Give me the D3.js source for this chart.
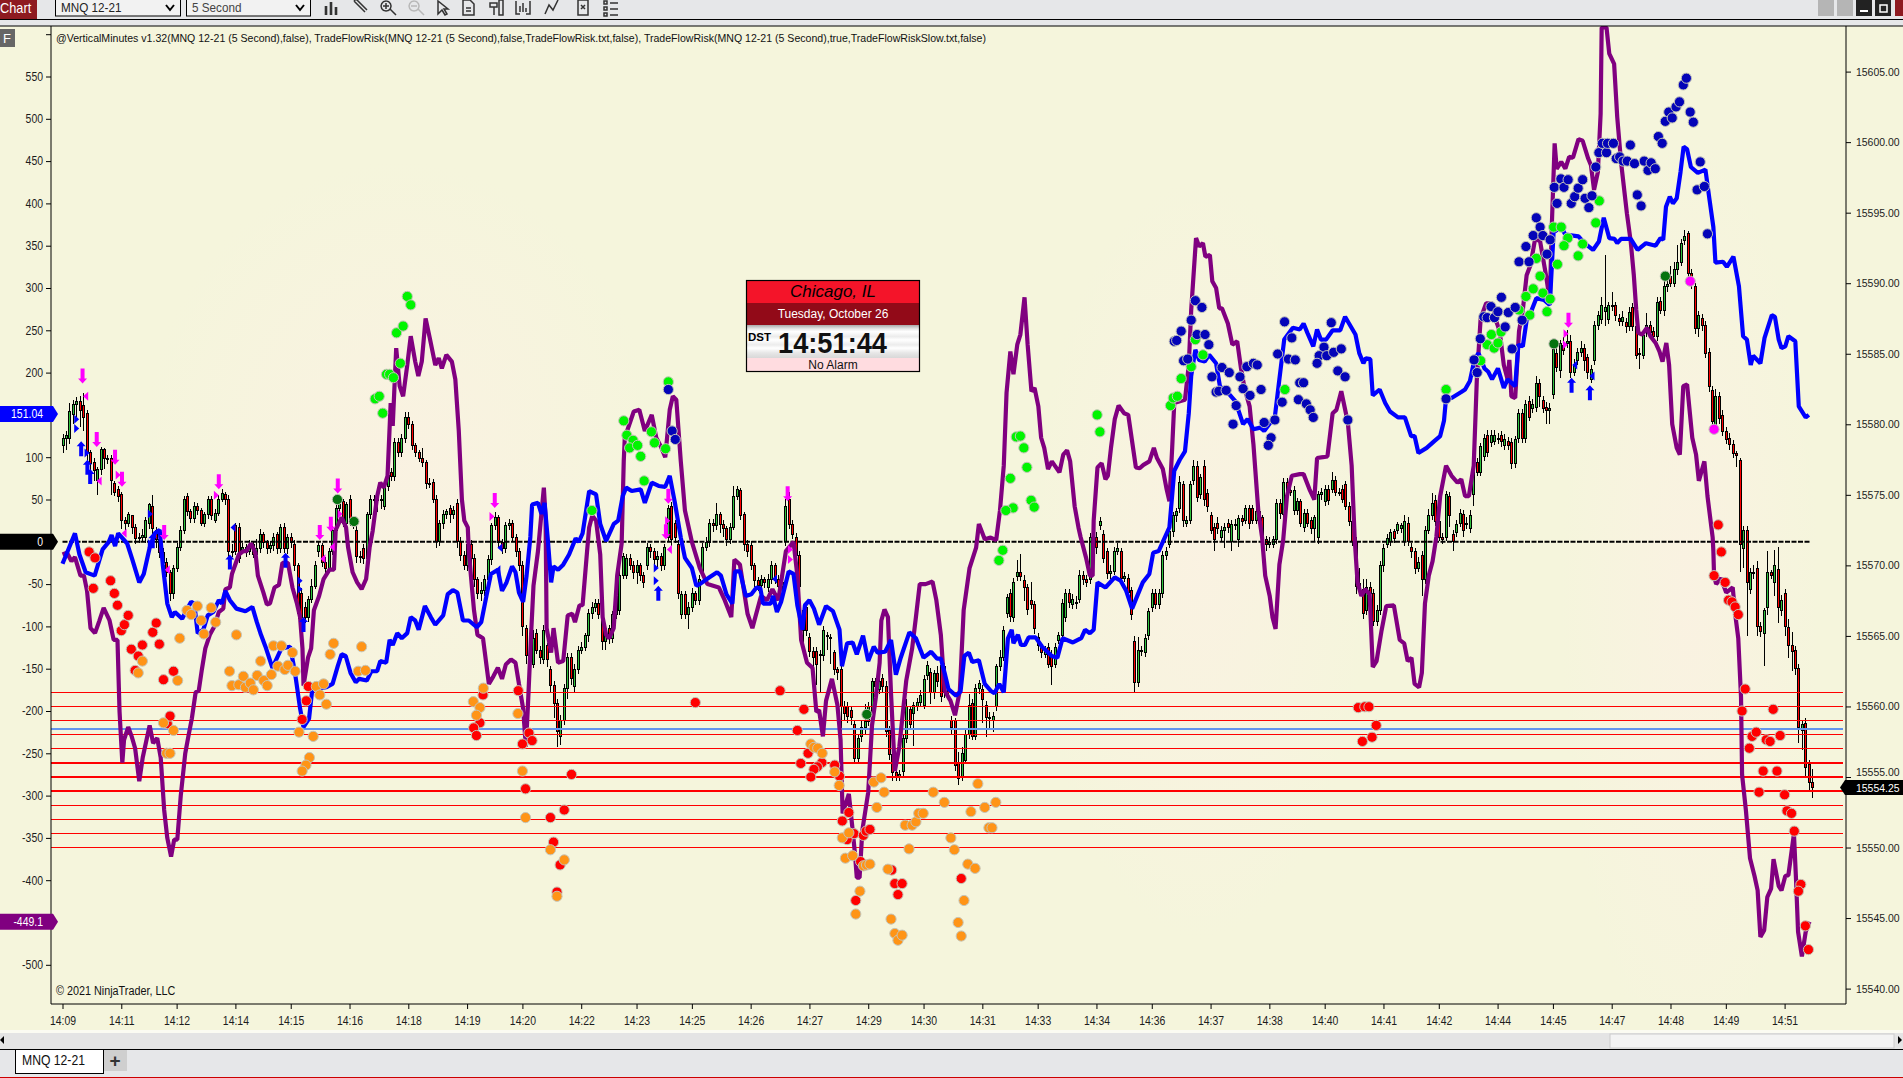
<!DOCTYPE html>
<html><head><meta charset="utf-8"><title>MNQ 12-21</title>
<script src="https://cdn.jsdelivr.net/npm/d3@7/dist/d3.min.js"></script>
<style>html,body{margin:0;padding:0;background:#f5f5dc;overflow:hidden}svg{display:block}text{font-family:"Liberation Sans",Arial,sans-serif}</style>
</head><body><svg id="c" width="1903" height="1078"></svg>
<script>
const title="@VerticalMinutes v1.32(MNQ 12-21 (5 Second),false), TradeFlowRisk(MNQ 12-21 (5 Second),false,TradeFlowRisk.txt,false), TradeFlowRisk(MNQ 12-21 (5 Second),true,TradeFlowRiskSlow.txt,false)";
const tickBars=[0,17,33,50,66,83,100,117,133,150,166,182,199,216,233,249,266,282,299,315,332,349,365,382,398,415,431,448,465,481,498];
const tickLabels=["14:09","14:11","14:12","14:14","14:15","14:16","14:18","14:19","14:20","14:22","14:23","14:25","14:26","14:27","14:29","14:30","14:31","14:33","14:34","14:36","14:37","14:38","14:40","14:41","14:42","14:44","14:45","14:47","14:48","14:49","14:51"];
const flowTicks=[600,550,500,450,400,350,300,250,200,150,100,50,0,-50,-100,-150,-200,-250,-300,-350,-400,-450,-500];
const priceTicks=[15540,15545,15550,15555,15560,15565,15570,15575,15580,15585,15590,15595,15600,15605];
const priceBase=15500;
const redLevels=[15550,15551,15552,15553,15554,15555,15556,15557,15558,15559,15560,15561];
const blueLevel=15558.4;
const lastPurple=-449.1,lastBlue=151.04,lastPrice=15554.25;
// candle rows: open, close, high, low (price minus priceBase)
const candles=[
[78.5,79,79.3,78],[79,79.2,79.5,78.2],[79,80.9,81.5,78.6],[80.7,81.4,81.7,80],[81.4,81.6,81.9,80.5],[81.6,81,82,79.8],[81.3,80.5,82.2,79.5],[80.8,78,81,77],[78,77.2,78.2,76],[77.3,76.7,77.6,76],
[76,76.8,77,75],[76.8,78.2,78.4,76.4],[78.2,77.6,78.3,76.8],[77.6,77.5,77.8,77.2],[77.6,76,77.8,75],[75.8,75.2,76,74.9],[75.4,74.9,75.6,74.5],[75,73.2,75.2,72.6],[73.2,73,73.4,72.4],[73,73.6,73.8,72.7],
[73.5,72.7,73.6,72.2],[72.7,71.9,72.9,71.5],[72,72,72.3,71.6],[72,72.1,72.6,71.7],[72,73.2,73.4,71.6],[73,74.3,74.4,72.6],[74.2,72.6,75,71.6],[72.5,71.8,72.7,71.2],[71.8,70.9,72,70.5],[70.9,70.2,71.2,69.8],
[70.2,69.5,70.5,69.2],[69.5,68,69.7,67.5],[68,69.8,70,67.6],[69.8,71.3,71.6,69.5],[71.3,72.5,72.8,71],[72.5,74.7,74.9,72.2],[74.9,73.8,75.1,73.5],[73.8,73.3,74,73],[73.3,74.2,74.5,73],[74.2,73.9,74.4,73.6],
[73.9,73,74.1,72.8],[73,73.6,73.8,72.7],[73.6,74.7,74.9,73.3],[74.7,73.5,74.9,73.2],[73.2,73.7,74,73],[73.7,74.7,75,73.5],[74.7,75.1,75.4,74.5],[75,74.7,75.2,74.3],[74.7,71,75,70.5],[71,71,71.5,70.6],
[72.8,71,73,70.7],[72.7,70.5,73,70.2],[71,71.3,71.6,70.8],[71.3,70.9,71.5,70.6],[71,71.5,71.8,70.7],[71.5,70.8,71.7,70.5],[70.8,71.2,71.9,70.5],[71.2,72.2,72.6,70.9],[72.2,71.6,72.4,71.2],[71.6,71.2,71.8,70.8],
[71.2,71.4,71.7,70.9],[71.4,72,72.3,71],[72.2,71.2,72.4,70.8],[71.2,72.7,72.9,70.9],[72.7,71.2,73,70.9],[71.2,72,72.2,70.8],[72,71.6,72.3,71.2],[71.5,70,71.8,69.6],[70,66.6,70.2,66.2],[68,66.3,68.4,65.8],
[67,66.3,67.4,65.9],[66.3,67.6,67.8,66],[67.6,68.5,69,67.3],[68.5,70,70.3,68.3],[71,71.4,71.7,70.6],[71.4,70.2,71.6,69.9],[70.2,69.8,70.6,69.4],[69.8,71,71.2,69.5],[71,72.5,72.8,70.7],[72.5,74,74.5,72.2],
[74,74.5,74.8,73.6],[74.5,73,74.7,72.7],[73,74.3,74.5,72.7],[74.7,73.2,75,72.8],[73.2,73,73.5,72.6],[72.5,70.6,72.8,70.2],[70.6,70.6,71,70.2],[71.2,70.5,71.5,70.1],[70.5,73.6,73.8,70.2],[73.6,74.7,75,73.3],
[74.7,74.7,75,74.2],[74.7,74.7,75,73.8],[74.7,74.6,75,74],[74.2,75.5,75.7,73.9],[75.6,76.4,76.6,75.3],[76.6,76.3,76.9,76],[76.3,78.7,79,76],[78.7,78,79,77.7],[78,79,79.3,77.7],[79,80.5,80.9,78.7],
[80.5,80,80.9,79.7],[80,78.5,80.2,78.2],[78.5,78,78.7,77.7],[78,77.6,78.2,77.3],[77.6,77.3,78.3,77],[77.3,75.8,77.5,75.4],[75.8,75.8,76.2,75.5],[75.9,74.7,76.1,74.4],[74.7,71.7,75,71.2],[71.7,73,73.2,71.4],
[73,73.6,73.9,72.6],[73.6,73.8,74,73.3],[74,73.6,74.3,73],[73.6,73.9,74.2,73.3],[74.4,71.7,74.7,71.2],[71.7,70.7,72,70.3],[70.7,70,71,69.7],[70,71.5,71.7,69.6],[71.5,70.5,71.8,70],[70.5,69,70.8,68.5],
[69,68,69.2,67.6],[68,68.2,68.8,67.5],[68.2,69,69.3,67.8],[69,70.4,70.7,68.7],[70.4,72.8,73,70],[72.8,73.4,73.8,72.5],[73.4,71.6,73.6,71.2],[71.6,71.2,71.9,70.8],[71.2,72.8,73.1,70.9],[72.8,73,73.3,72.5],
[73,72,73.2,71.7],[72,71,72.2,70.6],[71,70,71.2,69.6],[70,65.7,70.3,65],[65.5,63.6,65.8,63],[63.6,63,63.9,62.5],[63,64.8,65.4,62.7],[65.2,64,65.5,63.7],[64,63.5,64.3,63],[63.3,65.4,65.8,63],
[64.3,63.3,64.5,62.8],[62.6,61.5,62.9,61],[61.5,60.2,61.8,59.2],[60.2,58.2,60.5,57.1],[57.9,59,59.4,57.3],[59,61.3,61.6,58.7],[61.3,63.5,63.8,60.5],[63.5,62,63.8,61.5],[61.4,62.6,63,61],[62.6,64,64.3,62.3],
[64,64.2,64.6,63.7],[64.2,65,65.2,63.9],[65,66.6,66.9,64.6],[66.6,67,67.4,66.2],[67,67.3,67.6,66.7],[67.3,66.5,67.6,66.2],[67,64.6,67.3,64],[64.6,65.5,65.8,64],[65.5,64.8,65.8,64.4],[64.8,66.5,66.8,64.5],
[66.5,67.8,68.1,66.2],[66.8,69.3,69.6,66.5],[69.3,70.6,70.9,69],[69.3,70.5,70.8,69],[70.5,70,70.8,69.7],[70,69.5,70.3,69],[69.5,70,70.4,68.7],[70,69.3,70.2,68.9],[69.3,68.8,69.5,68.4],[70,71.3,71.6,69.7],
[71.3,71,71.5,70.5],[71,70.4,71.2,70],[70.4,70.6,71,69.9],[70.6,70,70.9,69.6],[70,71.3,71.5,69.7],[72,74,74.3,71.7],[74.2,71.8,74.5,71.4],[73,72,73.2,71.6],[71.5,68,71.8,67.6],[66.5,67.9,68.2,66.2],
[67.9,66.5,68.2,66.2],[66.5,67,67.4,65.5],[67,68,68.4,66.7],[68,67.5,68.2,67.2],[67.5,69,69.3,67.2],[69.5,71.3,71.6,69.2],[71.3,71.6,72,71],[71.6,73,73.3,71.3],[73,72.8,73.3,72.4],[72.8,73.6,74.4,72.5],
[73.6,72.9,73.8,72.3],[72.9,72.6,73.2,72],[72.6,71.8,72.8,71.4],[71.8,72.7,73,71.5],[72.7,74.9,75.6,72.5],[74.9,75.4,75.6,74.6],[75.3,73.5,75.5,73.2],[73.6,71.5,73.8,71],[71.5,71,71.8,70.6],[71.4,70,71.7,69.7],
[70,68.9,70.2,68.5],[68.9,68.6,69.2,68.2],[68.6,69,69.3,68.3],[69,68.8,69.2,68.4],[68.4,69,69.4,68.1],[69,70,70.3,68.7],[70,69,70.2,68.7],[69,68.5,69.3,68.2],[68.5,68.8,69.2,68.2],[71.7,74.2,74.7,71.4],
[74.7,72.9,75.2,72.6],[72.9,72.2,73.2,71.9],[72,70.7,72.3,70.3],[70.7,68.5,71,68],[66.8,65.4,67.2,64],[67,65.4,67.3,65],[64.9,63.9,65.2,63.5],[63.9,63.5,64.2,62.2],[63.9,63,64.2,61.5],[63.7,63.6,64,61],
[63.6,65.4,65.7,63.2],[65,65,65.3,64],[64.9,64.9,65.1,63],[63.8,62.6,64,62.2],[62.6,62.4,62.8,61.9],[62.6,60,62.9,58],[60,59.5,60.4,59],[60,59.3,60.3,58.8],[59.7,59.2,60,58.7],[58.7,56.3,59,56],
[56.3,57.7,58,56],[57.9,58.5,59,57.5],[58.5,58.9,60.2,58],[58.9,60,60.3,58.6],[59,61.8,62,58.7],[61.8,61.4,62,61],[61.2,61.8,62.5,60.9],[62,61.4,62.3,61],[61.4,58.2,61.8,57.8],[58.3,56.6,58.6,56.2],
[56.6,55.3,56.9,54.7],[55.3,55,55.6,54.7],[55,55.2,55.5,54.7],[55.4,57.7,58,55],[57.7,60,60.5,57.4],[59.8,58.7,60,58.3],[59.5,60.1,60.3,57.2],[60,60.3,60.6,59.7],[60.3,60.8,61.2,60],[60.1,61.9,62.2,59.8],
[62.2,62.9,63.2,61.9],[62.4,61,62.7,60.2],[61,62.3,62.6,60.5],[62.3,61.8,62.9,61.4],[62.9,60.7,63.4,60.3],[62.8,61.3,63.1,60.6],[61.3,61,61.6,60.7],[59,58.5,59.3,58],[59,55.8,59.2,55.4],[56,54.9,56.8,54.4],
[55,56.7,57.1,54.7],[56.2,58,58.3,55.9],[58,60.1,60.9,57.7],[60.2,57.9,60.5,57.6],[57.9,61.3,61.6,57.6],[61.3,61.6,61.9,60.9],[61.2,60.5,61.5,58.8],[60.1,59.2,60.4,57.8],[59.2,59.2,59.6,58.5],[59,59.3,59.6,58.2],
[60,62.8,63,59.7],[62.8,63.5,64,62.5],[63.5,65.4,65.7,63.2],[66.6,67.7,68,66.3],[68,66.4,68.3,66],[66.3,68.8,69.1,66],[69.2,69.5,70.4,68.9],[69.5,69.2,70.8,68.9],[68.9,68.4,69.3,67.5],[68.4,66.9,68.7,66.5],
[67.5,67.2,68.8,66.9],[67.2,65.5,67.5,65.1],[64.9,64.3,65.2,63.9],[64.2,63.8,64.5,63.4],[63.7,64,64.3,63.4],[64.2,63,64.5,62.7],[63.7,62.8,64,61.5],[63,64.2,64.5,62.7],[64.7,65,65.3,64.4],[65,67.3,67.6,64.7],
[66.3,68,68.3,66],[68,67.4,68.3,67],[67.2,67.6,68,66.9],[67.4,67.4,67.8,66.9],[67.6,69.3,69.7,67.3],[69.3,69,69.6,68.6],[69,68.8,69.3,68.5],[69,72,72.3,68.7],[70.5,72.6,73,70.2],[72,71.3,72.4,70.8],
[72.8,73.1,73.4,72.5],[72.2,70.5,72.5,70.2],[71,69.4,71.2,69],[69.4,69.6,70,69],[69.6,71,71.3,69.3],[71,71.2,71.6,70.7],[71,69.1,71.2,68.8],[69.1,69.2,69.5,68.8],[69.1,68.1,69.4,67.7],[68.2,66.5,68.5,66.1],
[64.6,61.7,65,61],[61.7,64,64.9,61.4],[64,64,64.3,63.6],[63.8,64.8,65.1,63.5],[65,66.7,67,64.7],[67,68,68.3,66.7],[68,67.2,68.3,66.9],[67.2,68,68.3,66.9],[68,70.7,71,67.7],[70.7,71,71.3,70.4],
[71.5,72.4,72.7,71.2],[72.4,73.5,73.8,72],[73.5,73.8,74.1,73.1],[74,75.9,76.3,73.7],[75.7,73.2,76,72.7],[73,73.2,73.5,72.7],[73.2,75.7,76,72.9],[76,77,77.5,75.7],[77,74.8,77.4,74.5],[75,76.2,76.5,74.7],
[77,74.7,77.5,74.2],[75.1,74.2,75.4,73.8],[73.5,72.5,73.8,72.2],[72.7,71.8,73,71],[73,72.6,73.4,72.2],[72,72.5,72.8,71.7],[72.5,72.7,73,71.2],[73,72.7,73.3,72.3],[71.7,72.9,73.2,71],[72.9,72.9,73.3,72.5],
[71.8,73.3,73.6,71.3],[73.3,73.1,73.6,72.8],[73.2,74,74.3,72.9],[74,73,74.3,72.6],[74,73.2,74.3,72.9],[73.2,73.8,74.2,72.9],[73.8,73,74,72.6],[73.4,71.8,73.6,71.4],[71.8,71.5,72.1,71],[71.5,71.6,72,71.2],
[71.5,71.8,72.1,71.2],[71.8,74.4,74.7,71.5],[74.4,73.7,74.7,73.3],[73.6,75.9,76.2,73.3],[75.9,75.3,76.2,75],[75.3,75.2,75.6,74.9],[73.9,75.3,75.6,73.6],[73.9,74.5,74.8,73.6],[74.5,73,74.7,72.7],[72.7,73.7,74,72.4],
[73.7,73,74,72.7],[73.2,72.6,73.4,72.2],[72.6,73.4,73.6,71.7],[72,75,75.3,71.5],[75,75.2,75.5,74.6],[74.5,75.4,75.7,74.2],[75.4,74.6,75.7,74.3],[75.4,76,76.6,75.1],[76,75.2,76.3,74.9],[75.2,75.2,75.5,74.9],
[75.4,74.7,75.7,74.4],[75.7,74.2,76,73.9],[74.2,73.1,74.5,72.8],[73.1,71.7,73.4,71.4],[71.7,68.5,72,68],[68.7,68.3,69.8,68],[68.3,66.6,69,66.2],[66.8,68.4,69,66.5],[68.4,68,68.8,67.7],[68,66,68.3,65.7],
[66,66.8,67.2,65.7],[66.8,70,70.3,66.5],[70,71.2,71.5,69.5],[71.5,71.9,72.2,71.2],[71.7,72.3,72.6,71.4],[72.4,71.9,72.6,71.6],[72.5,72.9,73.1,72.2],[72.6,72.8,73,72.3],[71.7,73.1,73.6,71.4],[73,71.7,73.4,71.4],
[71.3,71,71.6,70.5],[71,69.8,71.2,69.4],[69.8,70.2,70.6,69.5],[70.7,69,71,67.8],[69,72.5,72.8,68.7],[72.5,73.5,74,72.2],[73.5,74.4,75.1,73.2],[74.6,73.1,75,72.8],[73.1,72,73.4,71.7],[72,71.8,72.3,71.5],
[72,75,75.3,71.7],[74.9,73.5,75.2,72.7],[72.2,71.7,72.5,71],[72.3,72.9,73.2,72],[73,73.7,74,72.7],[73.6,72.5,73.9,72],[72.9,73,73.4,72.6],[72.6,73.5,73.9,72.3],[75,77.4,77.7,74.2],[77.3,76.6,77.6,76.3],
[76.6,78.4,78.7,76.3],[77.7,79,79.3,77.4],[79.2,78,79.6,77.7],[78.7,79.2,79.6,78.4],[78.8,79.2,79.6,78.5],[79,79,79.4,78.6],[79.2,78.8,79.5,78.4],[78.5,78.9,79.3,78.2],[78.8,78.5,79.1,78.2],[78.7,77.2,79,76.8],
[77.2,78.9,79.2,76.9],[79,80.8,81.1,78.7],[80.8,79,81.1,78.7],[79,81.4,81.7,78.7],[81.6,80.5,82,80.2],[81.1,81.4,81.8,80.8],[81.2,82.9,83.4,80.9],[82.9,82,83.2,81.2],[81.7,81.1,82,80.8],[81.2,81,81.6,80],
[81,81.1,81.5,80],[82.1,85.3,85.6,81.8],[85,84,85.5,83.7],[83.8,85.7,86,83.3],[85.6,85.2,86.2,84.9],[85.7,85.9,86.7,85.4],[85.9,83.7,86.3,83.3],[83.7,84.2,84.6,83.4],[84.5,85.1,85.4,84.2],[85.1,85.4,85.9,84.8],
[85.4,84.5,85.7,83.8],[84.7,83.7,85,83.2],[83.2,83.9,84.2,82.9],[84.5,87,87.3,84.2],[87,87.7,88,86.7],[87.4,88.4,89,87.1],[88,88.3,92,87],[87.4,88.4,88.7,87.1],[88.4,88.4,89.4,88],[88.4,87.7,88.7,87.3],
[87.5,87.3,87.8,87],[87.3,87.6,88,87],[87.2,86.9,87.5,86.5],[86.9,87.9,88.3,86.6],[88.3,86.9,88.6,86.6],[86.9,84.9,87.2,84.6],[85,85,85.4,83.9],[84.9,86.3,86.6,84.6],[86.5,87,87.9,86.2],[87,86.5,87.3,86.2],
[86.6,86.2,86.9,85.9],[86.2,88.6,89,85.9],[88.7,88.1,89,87.8],[88.1,89.8,90.2,87.7],[89.8,89.9,90.3,89.4],[90.5,90,91.2,89.7],[90,91,91.5,89.7],[91,91.5,92.7,90.6],[91.5,92.8,93.1,91.2],[93,93.3,93.8,92.7],
[93.5,90.7,93.7,90.3],[90.7,90,91,89.6],[89.8,86.8,90,86.4],[86.8,87.7,88,86.2],[87.5,87,87.8,86.6],[87,85,87.3,84.7],[85.1,82.7,85.4,82.3],[82.4,80.2,82.7,79.9],[80,82,82.5,79.7],[82,80.4,82.3,80],
[80.6,79.5,81,79.2],[79.5,78.9,79.8,78.6],[79,78.6,79.4,78.2],[78.6,77.9,78.9,77.6],[77.9,77.8,78.1,77],[77.4,71.5,77.6,69.5],[71.2,72.5,72.8,69.8],[72.5,68.8,72.8,65],[68.3,69.5,69.8,68],[69.5,69.5,70,69],
[69.8,65.7,70.3,65],[65.7,65.3,66,64.9],[65.2,66.8,67,62.9],[67,69.5,71,66.5],[69.5,69.3,69.7,69],[68.8,70,71.1,67.8],[69.7,67,71.3,65.9],[66.8,67.5,67.9,66.4],[68,65.7,68.3,65],[65.6,64.3,66.2,63.4],
[64.3,63.9,65.3,62.5],[64,62.7,64.3,62.2],[62.7,58.5,63,57.4],[58.3,58.7,59,56.9],[58.8,55.7,59.2,55],[55.9,54.6,56.2,54],[54.6,54.25,55.6,53.5]];
// lines: [bar, value on the left scale]
const purpleLine=[[0,-15],[1.3,-13],[2.6,-23],[3.6,-18],[5.2,-40],[6.2,-40],[7.1,-58],[8.1,-102],[9.4,-108],[10.6,-94],[11.9,-78],[13.6,-93],[14.8,-116],[15.9,-116],[16.5,-201],[17.3,-261],[17.8,-234],[19,-219],[20,-230],[21,-244],[22.2,-283],[23.2,-255],[25.2,-217],[26.2,-238],[27.4,-232],[28.4,-255],[29.4,-317],[30.3,-350],[31.4,-372],[32.3,-352],[33.2,-352],[34.2,-300],[35.5,-250],[36.4,-230],[37.4,-209],[38.5,-178],[39.4,-176],[40.3,-151],[41.3,-126],[42.6,-110],[43.9,-100],[45.2,-83],[46.5,-79],[47.1,-56],[48.4,-54],[49,-38],[51,-15],[52.3,-11],[53.2,-11],[54.5,-2],[55.8,-13],[56.5,-40],[58.1,-60],[59.1,-74],[60,-73],[61.3,-54],[62.6,-51],[63.6,-25],[65.2,-25],[66.5,-54],[67.8,-73],[68.7,-89],[69.4,-126],[69.7,-170],[71,-137],[71.9,-126],[72.7,-81],[74.2,-64],[75.5,-44],[77.2,-33],[78.5,-33],[79,14],[80.7,29],[82,17],[82.6,-7],[83.9,-36],[85.2,-48],[86.5,-56],[87.8,-44],[88.8,-7],[89.7,13],[91,54],[91.9,70],[92.9,64],[94,78],[94.9,164],[95.5,137],[96.5,229],[97.5,184],[98.5,172],[99.7,209],[100.7,243],[102,213],[102.9,196],[103.9,213],[105,264],[106.2,241],[107.8,209],[108.8,217],[109.7,205],[111,221],[112.6,213],[113.6,192],[114.6,131],[115.5,50],[116.2,25],[117.2,17],[117.5,-11],[118.1,-40],[119,-81],[120,-110],[121.6,-114],[123.3,-168],[124.6,-159],[125.9,-149],[127.1,-162],[128.2,-145],[129.7,-139],[131,-143],[132,-168],[133.2,-197],[134,-242],[134.6,-193],[135.5,-110],[136.2,-52],[137.5,-11],[138.4,29],[139.2,64],[139.7,29],[140,-102],[141.3,-131],[142,-102],[143.3,-143],[144.8,-141],[146.1,-87],[147.4,-85],[148.2,-95],[149.5,-75],[150.4,-75],[151.7,-11],[152.3,17],[153.2,31],[154.3,25],[155.5,-15],[156.2,-89],[157.2,-110],[158.1,-114],[159.4,-102],[160.4,-40],[161.7,-2],[162.3,95],[162.6,123],[165.2,154],[166.8,156],[168.4,131],[170.4,150],[171.7,123],[173,113],[174.3,100],[175.6,156],[176.5,172],[177.5,168],[178.8,95],[180,37],[182,0],[184.3,-31],[186.5,-50],[189.8,-54],[191.5,-69],[193.4,-89],[194.3,-21],[195.9,-27],[198.1,-85],[199.5,-102],[202,-64],[203.7,-69],[205.3,-56],[207,-69],[209.2,-11],[211.4,0],[212.5,-40],[213.6,-116],[215.3,-143],[216.9,-149],[218,-201],[218.8,-199],[219.9,-230],[220.8,-188],[222.5,-162],[224.1,-193],[225,-234],[225.6,-321],[227.4,-298],[228.5,-341],[229.1,-366],[229.7,-397],[230.5,-397],[231.3,-341],[233,-296],[234.1,-217],[235.2,-184],[236.3,-143],[236.8,-93],[237.7,-80],[238.7,-89],[239.6,-180],[240.7,-271],[242,-242],[244,-164],[245.7,-126],[246.8,-89],[247.9,-50],[249.6,-50],[251.6,-47],[252.7,-69],[254,-110],[255.1,-176],[256.8,-188],[258.1,-205],[259.5,-176],[260.6,-81],[262.3,-31],[264.2,-7],[265,21],[266.7,3],[268.4,5],[270,2],[271.1,37],[272.2,90],[273,176],[274.1,225],[275,198],[276.1,233],[277,245],[278.2,289],[279.1,233],[280.2,178],[281.1,182],[282.2,160],[283,123],[283.9,111],[285,86],[286.1,95],[288.3,82],[289.4,103],[290.5,108],[291.4,95],[292.7,42],[293.8,17],[294.4,6],[296,-19],[297.1,-40],[297.9,-40],[298.2,25],[299.3,88],[300.5,93],[301.6,74],[302.3,78],[303.2,111],[304.3,145],[305.4,161],[307,152],[308.2,150],[309.3,119],[310.4,88],[311.5,87],[312.6,91],[314.3,95],[315.6,111],[316.5,99],[318.2,86],[319.3,62],[320.1,48],[320.9,111],[321.5,164],[323.1,166],[324.6,168],[325.7,209],[326.4,274],[327.8,359],[328.7,349],[329.8,353],[330.5,337],[331.8,339],[332.5,308],[333.6,300],[334.5,276],[335.3,276],[337,258],[338.3,233],[339.7,237],[340.8,205],[341.9,180],[343.3,160],[344.4,115],[345.8,37],[346.9,5],[347.8,-40],[349.1,-64],[349.9,-89],[350.8,-103],[351.9,-27],[353,2],[354.1,54],[355.5,78],[357.8,80],[358.9,80],[360.6,62],[362,50],[362.8,99],[364.5,100],[365.8,101],[367.3,152],[368.4,156],[369.8,178],[371.7,141],[372.8,90],[373.7,2],[374.5,-48],[375.6,-64],[376.7,-56],[378,-62],[378.9,-148],[380,-141],[381.4,-106],[382.8,-76],[385,-75],[386.7,-116],[388,-120],[389,-141],[390.1,-137],[391,-168],[392.3,-172],[393.1,-155],[394,-73],[395.1,-40],[396.2,-23],[397.3,6],[398.4,54],[400.1,90],[401.7,78],[403.4,70],[404.5,74],[405.6,54],[406.7,54],[408.1,90],[409,192],[410.1,264],[411.7,282],[413.4,282],[414.5,262],[415.6,249],[416.8,209],[417.9,192],[418.4,215],[419,172],[420.1,170],[421.2,249],[422.3,274],[423.4,315],[424.5,327],[425.9,359],[427.3,355],[429,315],[430.1,286],[430.7,376],[431.5,471],[432.1,441],[433.4,449],[434.6,441],[435.7,455],[436.8,454],[438.4,476],[439.6,474],[441.2,453],[442,445],[442.9,416],[444,437],[444.8,506],[445.1,608],[446.5,608],[447.3,577],[448.7,565],[449.6,502],[450.7,449],[452.4,388],[453.5,355],[454.4,315],[455.1,274],[455.7,247],[456.8,245],[458.2,253],[459.2,243],[460.7,235],[461.8,225],[462.7,213],[463.8,235],[464.6,209],[465.5,139],[466.8,111],[467.7,103],[468.7,184],[469.8,186],[471.3,123],[472.4,103],[473.2,72],[474.8,95],[475.7,54],[477.2,5],[477.4,-11],[477.6,-40],[478.2,-50],[479.6,-43],[481.1,-60],[483,-54],[483.7,-85],[484.6,-114],[485.4,-184],[485.7,-275],[486.8,-317],[488,-374],[489.3,-395],[490.2,-412],[491,-467],[492.1,-459],[493,-420],[494.1,-410],[494.8,-375],[496.3,-407],[497.1,-412],[498.2,-395],[499.1,-394],[500.7,-345],[501.3,-399],[501.9,-461],[503,-490],[504.1,-461],[505.2,-449]];
const blueLine=[[0,-26],[1.9,-7],[3.6,10],[4.9,-15],[6.7,-36],[9.3,-40],[11.6,-9],[13.4,0],[14.2,8],[15.2,-5],[16.1,10],[18.7,-2],[20.2,-21],[22.2,-48],[23.5,-38],[25.2,-7],[26.7,10],[28.1,14],[29,-27],[30.3,-73],[31.6,-89],[32.5,-83],[34.6,-91],[36.1,-79],[37.2,-71],[38.1,-73],[39.1,-108],[40.7,-104],[42,-87],[43.6,-83],[45.2,-69],[46.1,-73],[47.1,-58],[48.4,-69],[50.3,-79],[52.9,-82],[54.9,-77],[56.2,-95],[57.4,-110],[58.7,-124],[60.7,-149],[63.3,-126],[65.8,-124],[67.1,-151],[68.7,-197],[69.7,-219],[71.3,-209],[72.3,-172],[73.8,-174],[76.2,-172],[78.1,-168],[79.6,-147],[80.7,-133],[81.9,-135],[83.3,-155],[84.8,-166],[85.8,-162],[88,-164],[89.3,-153],[91,-153],[91.9,-141],[93.6,-143],[94.6,-116],[95.5,-122],[96.8,-108],[98.1,-114],[99.7,-108],[100.7,-89],[102,-93],[103,-104],[104.8,-76],[106.5,-89],[107.8,-98],[110.1,-87],[111.4,-62],[112.9,-57],[114.2,-60],[115.8,-93],[117.5,-93],[119.8,-101],[121.1,-95],[122.6,-64],[123.9,-38],[125.9,-33],[127.1,-58],[128.4,-48],[130,-29],[131,-36],[132,-60],[133.2,-71],[134.2,-40],[135.3,6],[135.8,44],[137.5,46],[138.5,33],[139.4,46],[140.4,0],[141.3,-48],[142,-29],[143.3,-33],[144.8,-27],[146.5,-15],[148.4,4],[149.3,0],[150.4,10],[152.3,60],[154.3,56],[155.5,21],[157.2,1],[159.4,21],[160.7,25],[162,54],[163,64],[164.6,60],[167.2,62],[168.4,46],[170.4,70],[172.4,66],[174.3,65],[175.6,78],[177.1,46],[178.8,5],[180,-19],[182,-31],[183.3,-52],[184.3,-50],[187.1,-42],[189.3,-36],[190.4,-40],[192,-62],[193.7,-73],[194.5,-35],[195.9,-35],[197.6,-64],[199.2,-62],[200.7,-54],[201.8,-55],[202.6,-73],[204.8,-73],[205.5,-64],[206.6,-83],[207.8,-71],[210,-35],[211.4,-38],[212.5,-75],[214,-104],[214.7,-75],[216,-69],[217.3,-79],[218.8,-98],[220.8,-76],[222.8,-82],[224.7,-104],[225.4,-147],[226.9,-120],[228.5,-119],[229.7,-133],[231.5,-111],[233,-141],[234.6,-124],[235.7,-131],[237.9,-130],[239.6,-116],[241,-157],[242.4,-137],[244.9,-107],[246.8,-114],[249,-137],[251.2,-130],[252.9,-138],[254,-138],[255.1,-155],[256.2,-174],[258.4,-182],[259.7,-177],[260.8,-135],[262.1,-131],[263.1,-142],[265,-140],[266.7,-168],[268.4,-176],[269.5,-179],[270.9,-168],[272.2,-178],[273.4,-114],[274.5,-104],[275,-120],[276.3,-110],[277.2,-122],[278.3,-122],[279.4,-113],[281.4,-113],[283.3,-124],[286.1,-135],[287.7,-137],[289.2,-114],[292.2,-119],[294.6,-114],[295.7,-104],[297.1,-108],[298.2,-104],[299.3,-48],[301.6,-54],[304.3,-42],[306,-46],[307.6,-58],[309.3,-79],[312.4,-48],[314.3,-38],[315.4,-13],[317,-11],[318.2,0],[320.1,17],[321.5,84],[323.1,97],[324.6,107],[325.7,152],[326.4,196],[327.6,227],[328.7,215],[330.3,213],[331.6,221],[333.6,211],[334.7,184],[336.4,176],[337.5,174],[339.2,166],[341.4,139],[342.7,145],[344.4,133],[346.4,135],[347.5,131],[350.6,148],[351.9,192],[353.3,239],[355.8,253],[357.8,251],[358.9,258],[360,247],[361.7,231],[362.8,251],[363.9,239],[365.4,239],[367.3,250],[369.5,250],[370.9,266],[373.9,245],[375,223],[376.2,211],[376.9,217],[378.2,216],[378.9,173],[380.9,180],[382.5,164],[383.9,154],[386.2,147],[388.2,147],[390,125],[391,125],[392.1,105],[394.5,111],[396.7,119],[398.4,125],[399.5,143],[400.1,170],[401.7,170],[404.5,177],[405.6,180],[407,190],[408.4,217],[409.5,223],[411.2,205],[412.3,201],[413.4,192],[415.1,205],[416.8,182],[417.9,192],[420.1,184],[421,233],[422.3,231],[423.4,262],[424.5,270],[426.2,288],[428.4,286],[430.1,280],[431.2,366],[433.4,372],[434.6,363],[438.4,361],[440.1,353],[442.6,345],[444.3,355],[445.7,383],[447.3,359],[448.8,358],[449.6,353],[450.7,358],[453.5,358],[455.5,345],[457.9,353],[460.7,350],[462.1,359],[462.9,357],[463.7,396],[464.8,408],[465.7,400],[466.8,406],[467.9,437],[468.8,467],[469.8,464],[470.9,443],[472.9,436],[475.1,440],[476.3,404],[477.4,372],[478,330],[480.2,331],[481.3,325],[483.2,337],[484.8,302],[486,243],[487.1,239],[488.2,209],[488.9,220],[491,211],[492.2,241],[494.3,268],[495.2,266],[496.3,239],[497.1,229],[498.2,231],[499.1,243],[501.1,237],[502.1,160],[504.1,147],[505,150]];
// dots: [bar, value on the left scale]
const redDots=[[7.7,-12],[9.4,-19],[8.9,-55],[13.9,-46],[15,-61],[15.9,-75],[17,-105],[17.9,-98],[19,-87],[19.9,-127],[21.9,-135],[23.1,-122],[21,-152],[26.1,-107],[27.1,-96],[28,-121],[29.2,-163],[32.1,-153],[30.3,-215],[31.1,-206],[71.1,-171],[70.5,-188],[69.3,-210],[121.6,-181],[131.8,-176],[120.7,-214],[118.9,-220],[119.7,-229],[134.9,-226],[135.8,-235],[133,-239],[133.9,-292],[141.1,-326],[145.1,-317],[147.2,-275],[142,-355],[143.9,-382],[143,-414],[183,-190],[207.5,-176],[214.4,-198],[212.5,-223],[215.6,-250],[213.5,-262],[219.6,-261],[218.3,-266],[217.3,-269],[216.4,-278],[223.3,-264],[224.7,-277],[227.4,-320],[225.5,-330],[228.9,-345],[226.9,-352],[231.6,-347],[232.4,-342],[233.5,-340],[230.8,-378],[239.8,-388],[240.7,-404],[242.8,-404],[241.6,-417],[229.4,-424],[259.9,-398],[374.7,-196],[376.6,-195],[377.8,-195],[379.9,-217],[378.7,-231],[375.9,-236],[478.8,20],[479.7,-12],[477.6,-40],[480.8,-48],[481.8,-69],[482.8,-71],[483.7,-77],[484.6,-86],[486.6,-174],[485.7,-200],[494.7,-198],[488.6,-230],[489.8,-225],[492.7,-234],[493.8,-236],[496.7,-229],[487.8,-244],[491.8,-271],[495.8,-271],[490.6,-296],[498,-299],[498.7,-318],[500,-321],[500.8,-342],[502.7,-405],[502,-413],[504,-454],[504.9,-482]];
const orangeDots=[[36,-81],[37.2,-86],[39,-76],[40.1,-93],[43,-78],[44.3,-95],[40.9,-109],[50.3,-110],[33.9,-114],[23.1,-141],[21.9,-155],[33.3,-164],[29.2,-214],[32.1,-223],[30.1,-250],[31.1,-250],[48.3,-153],[49,-170],[51,-169],[52.3,-159],[52.9,-172],[54.3,-167],[55.2,-175],[56.3,-158],[57.3,-141],[58.2,-164],[59.2,-170],[60.4,-157],[61,-123],[63.3,-123],[62.3,-147],[64.3,-151],[65.2,-146],[66.5,-131],[67.3,-153],[68.4,-225],[72.5,-230],[71.4,-255],[70.4,-264],[69.3,-271],[73.4,-171],[74.4,-181],[75.5,-168],[76.3,-192],[77.4,-133],[78.4,-120],[86.5,-124],[85.5,-153],[87.6,-152],[121.7,-173],[118.8,-189],[120.7,-196],[119.7,-205],[131.7,-203],[133,-271],[133.9,-326],[141.1,-364],[145.1,-376],[143,-419],[216.4,-239],[217.3,-243],[218.4,-244],[219.7,-250],[223.3,-272],[224.6,-288],[225.5,-350],[227.4,-344],[226.4,-374],[228.5,-371],[231.6,-383],[232.5,-382],[233.5,-381],[234.6,-284],[236.7,-279],[237.6,-296],[235.5,-314],[230.6,-413],[229.4,-440],[238.7,-387],[239.6,-446],[240.7,-463],[241.6,-471],[242.8,-465],[243.7,-335],[245.7,-335],[246.8,-331],[247.6,-321],[248.9,-321],[244.8,-363],[251.8,-296],[255,-308],[256.9,-350],[257.9,-364],[261.8,-381],[263.9,-386],[260.7,-424],[259,-450],[259.9,-466],[262.7,-319],[264.7,-286],[266.7,-314],[269.9,-308],[267.9,-338],[268.8,-338]];
const greenDots=[[99.7,290],[100.7,280],[96.6,247],[98.5,255],[97.7,211],[93.7,198],[94.6,198],[95.7,194],[90.4,169],[91.6,172],[92.6,152],[162.3,143],[163.2,126],[165,120],[164,111],[166.3,114],[167.2,101],[168.2,72],[170.3,130],[171.2,117],[174.4,110],[175.2,189],[153.1,37],[271.9,-10],[270.8,-22],[275.8,124],[277,125],[278,111],[278.9,88],[274.1,75],[274.9,40],[272.8,37],[280.1,49],[281,41],[299.2,150],[300,130],[320.4,161],[321.2,170],[322.4,172],[323.5,193],[326.4,207],[327.6,239],[329.8,221],[353.5,180],[400.1,180],[410.1,214],[413.2,245],[412,233],[414,229],[415.1,235],[416,248],[421.2,274],[424.3,268],[423.2,290],[425.3,299],[428.1,294],[430.2,287],[429.3,272],[427.3,314],[426.2,335],[432.3,328],[431.2,372],[433.4,372],[435.3,359],[434.2,350],[438.3,338],[439.6,352],[443.4,377],[444.4,403]];
const darkGreenDots=[[79.5,50],[84.3,24],[232.6,-204],[431.3,234],[463.5,314]];
const navyDots=[[175.2,180],[176.3,131],[177.2,121],[327.6,285],[329.5,277],[326.4,262],[323.5,249],[321.5,237],[322.2,238],[328.1,245],[330.4,245],[331.5,233],[324.2,214],[325.4,216],[335.3,206],[337.4,200],[340.5,195],[342.5,207],[344.4,211],[345.5,209],[332.4,195],[333.6,177],[334.4,178],[336.5,179],[341.4,181],[343.4,173],[346.6,180],[339.4,161],[338.5,139],[347.5,141],[350.6,144],[349.5,123],[348.7,114],[351.4,222],[353.4,260],[355.5,241],[354.5,216],[356.5,215],[352.7,165],[357.4,168],[357.8,188],[366.9,259],[364.8,230],[363.4,220],[365.6,220],[367.6,224],[369.8,228],[362.8,211],[368.8,202],[370.9,195],[358.9,188],[359.7,163],[360.8,156],[361.7,147],[371.7,144],[400.1,169],[409.1,200],[408.2,215],[410,240],[417.2,254],[419.2,228],[411,266],[412,265],[413.1,278],[414.1,265],[415.1,272],[416.1,289],[418.1,271],[420.1,277],[422.1,262],[421.2,331],[424.1,331],[423.2,349],[425.3,362],[426.2,383],[427.3,372],[428.1,362],[430.2,357],[429.3,340],[432.2,400],[431.4,419],[433.3,429],[434.2,419],[435.4,428],[436.3,400],[437.3,408],[438.3,418],[439.6,428],[440.3,406],[441.4,395],[442.3,409],[443.4,443],[444.3,460],[445.3,471],[446.5,460],[446.8,471],[448.5,471],[449.3,453],[450.3,455],[451.3,450],[452.5,450],[453.4,469],[454.6,447],[455.4,410],[456.5,397],[457.4,450],[458.5,439],[459.4,448],[460.6,441],[461.5,479],[462.6,471],[463.5,497],[464.5,508],[465.5,501],[466.6,514],[467.6,520],[468.7,540],[469.6,548],[470.7,508],[471.6,496],[473.6,449],[472.7,416],[474.8,420],[475.7,364]];
const magentaDots=[[470.7,308],[477.6,133]];
// arrows and small triangles: [bar, value on the left scale]
const magentaDown=[[5.8,187],[9.9,112],[15.2,91],[17.2,65],[45.2,62],[79.6,57],[77.6,12],[74.4,2],[29.4,2],[125,40],[175.2,45],[174.5,3],[209.7,48],[435.5,253]];
const blueUp=[[5.4,119],[7.2,97],[8,86],[48.4,-15],[26.1,10],[64.5,-13],[69.7,-89],[172.3,-52],[436.4,194],[441.7,185]];
const magentaLeft=[[6.7,172],[10.6,72],[17.8,10],[75.3,-20],[78,-6],[175.5,-9],[30.3,-33]];
const magentaRight=[[16.1,79],[44.5,55],[80.3,33],[124.2,30],[175,25],[210.5,-9],[210.5,-21],[434.8,246],[434.6,233]];
const blueRight=[[4.1,145],[4.1,134],[7.1,105],[25.4,33],[25.4,-2],[68.7,-46],[68.7,-56],[171.7,-31],[171.7,-46]];
const blueLeft=[[49.3,17],[126.5,-7],[125.9,-33],[205.9,-44],[437.3,209],[442.3,196]];

const svg=d3.select("#c");
const plot={l:51,r:1846,t:26,b:1004};
const x=d3.scaleLinear().domain([0,498]).range([62.5,1784.6]);
const yL=d3.scaleLinear().domain([-500,550]).range([964.8,76.5]);
const yR=d3.scaleLinear().domain([15540,15605]).range([988.6,71.6]);
svg.append("rect").attr("width",1903).attr("height",1078).attr("fill","#f5f5dc");
const defs=svg.append("defs");
defs.append("clipPath").attr("id","plotClip").append("rect").attr("x",plot.l).attr("y",plot.t).attr("width",plot.r-plot.l).attr("height",plot.b-plot.t);
const soft=defs.append("radialGradient").attr("id","tint");
soft.append("stop").attr("offset","0").attr("stop-color","#fbf1e3").attr("stop-opacity",.8);
soft.append("stop").attr("offset","1").attr("stop-color","#fbf1e3").attr("stop-opacity",0);
const g=svg.append("g").attr("clip-path","url(#plotClip)");
[[400,460,260,300],[1200,560,170,380],[1690,600,130,470]].forEach(t=>g.append("ellipse").attr("cx",t[0]).attr("cy",t[1]).attr("rx",t[2]).attr("ry",t[3]).attr("fill","url(#tint)"));

// candles
const cG=g.append("g").attr("shape-rendering","crispEdges");
cG.selectAll("line").data(candles).join("line").attr("x1",(d,i)=>Math.round(x(i))+.5).attr("x2",(d,i)=>Math.round(x(i))+.5)
 .attr("y1",d=>yR(priceBase+d[2])).attr("y2",d=>yR(priceBase+d[3])).attr("stroke","#000").attr("stroke-width",1);
cG.selectAll("rect").data(candles).join("rect").attr("x",(d,i)=>Math.round(x(i))-.5).attr("width",2)
 .attr("y",d=>yR(priceBase+Math.max(d[0],d[1]))).attr("height",d=>Math.max(1,Math.abs(yR(priceBase+d[0])-yR(priceBase+d[1]))))
 .attr("fill",d=>d[1]>=d[0]?"#2fc23d":"#ff0000").attr("stroke","#000").attr("stroke-width",1);

// levels
const lv=g.append("g").attr("shape-rendering","crispEdges");
lv.selectAll(".lvl").data(redLevels).join("line").attr("class","lvl").attr("x1",plot.l).attr("x2",1843).attr("y1",d=>yR(d)).attr("y2",d=>yR(d)).attr("stroke","#f00").attr("stroke-width",1.3);
lv.append("line").attr("x1",plot.l).attr("x2",1843).attr("y1",yR(blueLevel)).attr("y2",yR(blueLevel)).attr("stroke","#6495ed").attr("stroke-width",2);
g.append("line").attr("x1",x(0)).attr("x2",1810).attr("y1",yL(0)).attr("y2",yL(0)).attr("stroke","#000").attr("stroke-width",2).attr("stroke-dasharray","5 1.5");

// lines
const line=d3.line().x(d=>x(d[0])).y(d=>yL(d[1]));
g.append("path").attr("d",line(purpleLine)).attr("fill","none").attr("stroke","#800080").attr("stroke-width",4.2).attr("stroke-linejoin","bevel");
g.append("path").attr("d",line(blueLine)).attr("fill","none").attr("stroke","#0000ff").attr("stroke-width",4.2).attr("stroke-linejoin","bevel");

// dots
function dots(data,fill){g.append("g").selectAll("circle").data(data).join("circle").attr("cx",d=>x(d[0])).attr("cy",d=>yL(d[1])).attr("r",5.1).attr("fill",fill).attr("stroke","#c4c4b8").attr("stroke-width",1);}
dots(redDots,"#ff0000");dots(orangeDots,"#ff9416");dots(greenDots,"#00f500");dots(darkGreenDots,"#06720f");dots(navyDots,"#0404b8");dots(magentaDots,"#ff00ff");

// arrows
function marks(data,fill,path){g.append("g").selectAll("path").data(data).join("path").attr("transform",d=>`translate(${x(d[0])},${yL(d[1])})`).attr("d",path).attr("fill",fill);}
marks(magentaDown,"#ff00ff","M0,0L-4.5,-5H-2V-15H2V-5H4.5Z");
marks(blueUp,"#0000ff","M0,0L-4.5,5H-2V15H2V5H4.5Z");
marks(magentaLeft,"#ff00ff","M-2.5,0L2.5,-4.5V4.5Z");
marks(magentaRight,"#ff00ff","M2.5,0L-2.5,-4.5V4.5Z");
marks(blueRight,"#0000ff","M2.5,0L-2.5,-4.5V4.5Z");
marks(blueLeft,"#0000ff","M-2.5,0L2.5,-4.5V4.5Z");

// condensed text like the resized screenshot
function squeeze(sel,f){sel.each(function(){const n=this.getComputedTextLength();if(n>0)d3.select(this).attr("textLength",n*f).attr("lengthAdjust","spacingAndGlyphs");});}

// axes
const fmtR=d3.format(".2f");
const axL=svg.append("g").attr("transform",`translate(${plot.l},0)`).call(d3.axisLeft(yL).tickValues(flowTicks).tickSize(5).tickPadding(3).tickFormat(d=>d===600?"":d));
const axR=svg.append("g").attr("transform",`translate(${plot.r},0)`).call(d3.axisRight(yR).tickValues(priceTicks).tickSize(5).tickPadding(5).tickFormat(fmtR));
const axB=svg.append("g").attr("transform",`translate(0,${plot.b})`).call(d3.axisBottom(x).tickValues(tickBars).tickSize(5).tickPadding(7).tickFormat((d,i)=>tickLabels[i]));
[axL,axB].forEach(a=>{a.select(".domain").remove();a.selectAll("text").attr("font-size",12).attr("font-family",'"Liberation Sans",Arial,sans-serif').attr("fill","#1c1c1c");a.selectAll("line").attr("stroke","#000");squeeze(a.selectAll("text"),.87);});
axR.select(".domain").remove();axR.selectAll("text").attr("font-size",11).attr("font-family",'"Liberation Sans",Arial,sans-serif').attr("fill","#1c1c1c");axR.selectAll("line").attr("stroke","#000");squeeze(axR.selectAll("text"),.95);
svg.append("path").attr("d",`M${plot.l},${plot.t}V${plot.b}H${plot.r}V${plot.t}`).attr("fill","none").attr("stroke","#000").attr("stroke-width",1);

// value tags
function tagL(v,fill,label){const y=yL(v);svg.append("path").attr("d",`M0,${y-8}H53L58,${y}L53,${y+8}H0Z`).attr("fill",fill);
 svg.append("text").attr("x",43).attr("y",y+4.2).attr("text-anchor","end").attr("fill","#fff").attr("font-size",12).text(label).call(squeeze,.87);}
// labels hidden behind the tags in the reference
axL.selectAll("text").filter(d=>d===150||d===0||d===-450).text("");
tagL(lastBlue,"#0000ff",lastBlue.toFixed(2));tagL(0,"#000","0");tagL(lastPurple,"#800080",String(lastPurple));
const yP=yR(lastPrice);
axR.selectAll("text").filter(d=>d===15555).attr("dy","-0.1em");
svg.append("path").attr("d",`M1903,${yP-7.5}H1845L1840,${yP}L1845,${yP+7.5}H1903Z`).attr("fill","#000");
svg.append("text").attr("x",1856).attr("y",yP+4.2).attr("fill","#fff").attr("font-size",11).text(lastPrice.toFixed(2)).call(squeeze,.95);

// captions
svg.append("text").attr("x",56).attr("y",42).attr("font-size",11.5).attr("fill","#111").text(title).attr("textLength",930).attr("lengthAdjust","spacingAndGlyphs");
svg.append("text").attr("x",56).attr("y",995).attr("font-size",12).attr("fill","#111").text("© 2021 NinjaTrader, LLC").call(squeeze,.9);
svg.append("rect").attr("x",0).attr("y",29).attr("width",15).attr("height",18).attr("fill","#666");
svg.append("text").attr("x",7).attr("y",43).attr("text-anchor","middle").attr("font-size",13).attr("fill","#fff").text("F");

// clock
const clock=svg.append("g");
const grad=defs.append("linearGradient").attr("id","clockBg").attr("x1",0).attr("x2",0).attr("y1",0).attr("y2",1);
[[0,"#a9a9a9"],[.12,"#e8e8e8"],[.2,"#fff"],[.35,"#ececec"],[.45,"#fff"],[.6,"#ececec"],[.7,"#fff"],[.85,"#e6e6e6"],[1,"#d8d8d8"]].forEach(s=>grad.append("stop").attr("offset",s[0]).attr("stop-color",s[1]));
clock.append("rect").attr("x",747).attr("y",281).attr("width",172).attr("height",23).attr("fill","#f41429");
clock.append("rect").attr("x",747).attr("y",303).attr("width",172).attr("height",22).attr("fill","#920a18");
clock.append("rect").attr("x",747).attr("y",325).attr("width",172).attr("height",33).attr("fill","url(#clockBg)");
clock.append("rect").attr("x",747).attr("y",358).attr("width",172).attr("height",13).attr("fill","#ffdce0");
clock.append("rect").attr("x",746.5).attr("y",280.5).attr("width",173).attr("height",91).attr("fill","none").attr("stroke","#000").attr("stroke-width",1.2);
clock.append("text").attr("x",833).attr("y",297).attr("text-anchor","middle").attr("font-size",17).attr("font-style","italic").attr("fill","#000").text("Chicago, IL");
clock.append("text").attr("x",833).attr("y",318).attr("text-anchor","middle").attr("font-size",12).attr("fill","#fff").text("Tuesday, October 26");
clock.append("text").attr("x",748).attr("y",341).attr("font-size",11.5).attr("font-weight","bold").attr("fill","#000").text("DST");
clock.append("text").attr("x",778).attr("y",353).attr("font-size",29).attr("font-weight","bold").attr("fill","#111").text("14:51:44").attr("textLength",109).attr("lengthAdjust","spacingAndGlyphs");
clock.append("text").attr("x",833).attr("y",369).attr("text-anchor","middle").attr("font-size",12).attr("fill","#111").text("No Alarm");

// toolbar
const tb=svg.append("g");
tb.append("rect").attr("width",1903).attr("height",19).attr("fill","#e6e7e9");
tb.append("rect").attr("y",19.5).attr("width",1903).attr("height",6.5).attr("fill","#e6e7e9");
tb.append("line").attr("x1",0).attr("x2",1903).attr("y1",19.5).attr("y2",19.5).attr("stroke","#000");
tb.append("line").attr("x1",0).attr("x2",1903).attr("y1",26).attr("y2",26).attr("stroke","#000");
tb.append("rect").attr("width",37).attr("height",19).attr("fill","#8e1a20");
tb.append("text").attr("x",0).attr("y",13).attr("font-size",15).attr("fill","#fff").text("Chart").call(squeeze,.85);
[[55,125,"MNQ 12-21"],[186,124,"5 Second"]].forEach(b=>{
 tb.append("rect").attr("x",b[0]+.5).attr("y",-1).attr("width",b[1]).attr("height",17).attr("fill","#f2f2f2").attr("stroke","#000");
 tb.append("text").attr("x",b[0]+6).attr("y",12).attr("font-size",13).attr("fill",b[0]>100?"#444":"#222").text(b[2]).call(squeeze,.9);
 tb.append("path").attr("d",`M${b[0]+b[1]-14},5l4,5l4,-5`).attr("fill","none").attr("stroke","#000").attr("stroke-width",2);
});
const iconPaths=[[331,"M-5,3v9M0,-1v13M5,4v8"],[360,"M-6,-2L5,9M-4,-4L7,7M-6,-2L-4,-4"],[387,"M3,6L9,12M-1,-2a5,5 0 1 0 .1,0M-4,3h6M-1,0v6"],[415,"M3,6L9,12M-1,-2a5,5 0 1 0 .1,0M-4,3h6"],[442,"M-4,-2L-4,11L0,7L3,12L5,11L2,6L6,6Z"],[469,"M-6,-3h7l4,4v11h-11ZM-3,5h5M-3,8h5"],[497,"M-7,0h7v4h-7ZM2,-3h4v15h-4ZM-3,4v8"],[523,"M-7,-2v13h4M7,-2v13h-4M-3,3v6M0,0v9M3,5v4"],[551,"M-6,11L-2,2L2,7L7,-3M-6,11"],[583,"M-5,-3h10v15h-10ZM-2,2l4,4M2,2l-4,4"],[610,"M-6,-2h3v3h-3ZM-6,4h3v3h-3ZM-6,10h3v3h-3ZM0,0h8M0,6h8M0,12h8"]];
tb.selectAll(".ic").data(iconPaths).join("path").attr("class","ic").attr("transform",d=>`translate(${d[0]},3)`).attr("d",d=>d[1]).attr("fill","none").attr("stroke",(d,i)=>i===3?"#b8b8b8":"#333").attr("stroke-width",(d,i)=>i===0?2.6:1.5);
[[1818,"#b5b5b5"],[1837,"#b5b5b5"],[1856,"#222"],[1875,"#222"],[1895,"#8e1a20"]].forEach(w=>tb.append("rect").attr("x",w[0]).attr("y",0).attr("width",16).attr("height",16).attr("fill",w[1]));
tb.append("rect").attr("x",1860).attr("y",10).attr("width",8).attr("height",2).attr("fill","#fff");
tb.append("rect").attr("x",1880).attr("y",5).attr("width",7).attr("height",7).attr("fill","none").attr("stroke","#fff").attr("stroke-width",1.5);

// bottom bars
const bb=svg.append("g");
bb.append("rect").attr("y",1033).attr("width",1903).attr("height",16).attr("fill","#e4e4e4");
bb.append("rect").attr("y",1030).attr("width",1903).attr("height",3).attr("fill","#fbfbf2");
bb.append("rect").attr("y",1049).attr("width",1903).attr("height",28).attr("fill","#e6e7e9");
bb.append("line").attr("x1",0).attr("x2",1903).attr("y1",1049.5).attr("y2",1049.5).attr("stroke","#000");
bb.append("line").attr("x1",0).attr("x2",1903).attr("y1",1077.5).attr("y2",1077.5).attr("stroke","#c00");
bb.append("rect").attr("x",1610).attr("y",1034).attr("width",284).attr("height",14).attr("fill","#f3f3f3").attr("stroke","#ccc");
bb.append("path").attr("d","M0,1040l4,-4v8ZM1902,1040l-4,-4v8Z").attr("fill","#000");
bb.append("rect").attr("x",15.5).attr("y",1049.5).attr("width",88).attr("height",24).attr("fill","#fff").attr("stroke","#000");
bb.append("text").attr("x",22).attr("y",1065).attr("font-size",14).attr("fill","#111").text("MNQ 12-21").call(squeeze,.87);
bb.append("rect").attr("x",104).attr("y",1050).attr("width",23).attr("height",21).attr("fill","#cfcfcf");
bb.append("text").attr("x",115).attr("y",1067).attr("text-anchor","middle").attr("font-size",19).attr("font-weight","bold").attr("fill","#333").text("+");
</script></body></html>
